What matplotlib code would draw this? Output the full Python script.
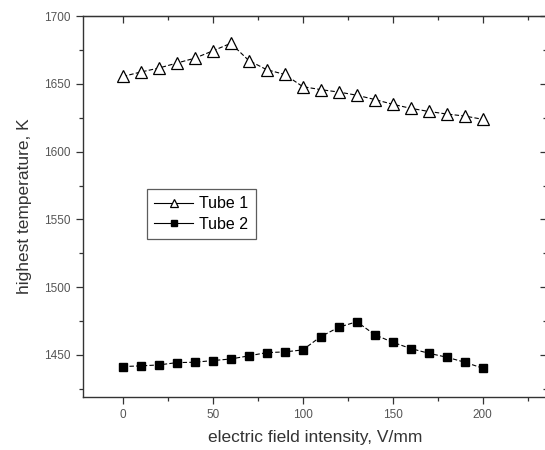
import matplotlib
matplotlib.use("Agg")
import matplotlib.pyplot as plt
from matplotlib.ticker import MultipleLocator

plt.rcParams['font.family'] = ['Liberation Sans', 'DejaVu Sans']

# data
field = [0, 10, 20, 30, 40, 50, 60, 70, 80, 90, 100,
         110, 120, 130, 140, 150, 160, 170, 180, 190, 200]
tube1 = [1655.5, 1658.8, 1661.7, 1665.4, 1669.0, 1674.4, 1680.0, 1667.3, 1660.5, 1657.0, 1648.0,
         1645.8, 1644.0, 1641.7, 1638.5, 1635.0, 1632.0, 1629.7, 1627.8, 1626.3, 1623.9]
tube2 = [1441.4, 1441.9, 1442.6, 1444.3, 1444.6, 1445.8, 1447.0, 1449.3, 1451.7, 1452.2, 1453.7,
         1463.5, 1470.4, 1474.5, 1464.9, 1459.3, 1454.7, 1451.2, 1448.3, 1444.6, 1440.2]
labels = ["Tube 1", "Tube 2"]

fig = plt.figure(figsize=(5.45, 4.5), dpi=100)
# right spine sits just past the image edge, as in the reference
ax = fig.add_axes([0.152, 0.118, 0.851, 0.846])

ax.plot(field, tube1, linestyle=(0, (4, 2)), color='black', lw=0.8,
        marker='^', ms=8, mfc='white', mec='black', mew=0.9, label=labels[0])
ax.plot(field, tube2, linestyle=(0, (4, 2)), color='black', lw=0.8,
        marker='s', ms=6, mfc='black', mec='black', label=labels[1])

ax.set_xlim(-22.2, 235.5)
ax.set_ylim(1419, 1700)
ax.xaxis.set_major_locator(MultipleLocator(50))
ax.xaxis.set_minor_locator(MultipleLocator(25))
ax.yaxis.set_major_locator(MultipleLocator(50))
ax.yaxis.set_minor_locator(MultipleLocator(25))

# left/bottom ticks point out, top/right point in
ax.tick_params(which='both', direction='out', colors='#333333', labelsize=8.5, width=0.9)
ax.tick_params(which='major', length=5)
ax.tick_params(which='minor', length=3)
for lab in ax.get_xticklabels() + ax.get_yticklabels():
    lab.set_color('#555555')

top = ax.secondary_xaxis('top')
top.xaxis.set_major_locator(MultipleLocator(50))
top.xaxis.set_minor_locator(MultipleLocator(25))
top.tick_params(which='both', direction='in', labeltop=False, colors='#333333', width=0.9)
top.tick_params(which='major', length=5)
top.tick_params(which='minor', length=3)
right = ax.secondary_yaxis('right')
right.yaxis.set_major_locator(MultipleLocator(50))
right.yaxis.set_minor_locator(MultipleLocator(25))
right.tick_params(which='both', direction='in', labelright=False, colors='#333333', width=0.9)
right.tick_params(which='major', length=5)
right.tick_params(which='minor', length=3)

for s in ax.spines.values():
    s.set_color('#333333')
    s.set_linewidth(1.0)

ax.set_xlabel("electric field intensity, V/mm", fontsize=12.5, color='#333333', labelpad=7)
ax.set_ylabel("highest temperature, K", fontsize=12.5, color='#333333', labelpad=9)

leg = ax.legend(loc='upper left', bbox_to_anchor=(0.139, 0.546), borderaxespad=0,
                fontsize=11.5, frameon=True, fancybox=False, edgecolor='#333333',
                markerscale=0.75, handlelength=2.4, handletextpad=0.4,
                borderpad=0.45, labelspacing=0.35)
leg.get_frame().set_linewidth(0.9)
for h in leg.get_lines():
    h.set_linestyle('-')

fig.savefig("out.png", dpi=100)
